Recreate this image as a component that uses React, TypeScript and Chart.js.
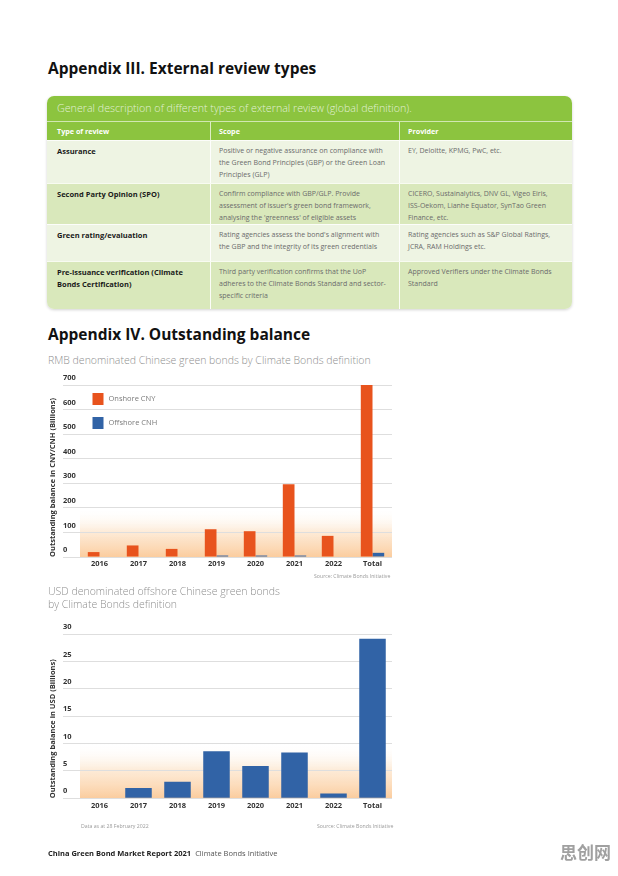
import React, { useEffect, useRef } from "react";
import { Chart, registerables } from "chart.js";

Chart.register(...registerables);

// ---------- data ----------
const categories = ["2016", "2017", "2018", "2019", "2020", "2021", "2022", "Total"];
const onshoreCNY = [20, 47, 33, 113, 105, 296, 86, 700];
const offshoreCNH = [0, 0, 0, 6, 6, 6, 0, 17];
const usdOffshore = [0, 1.9, 3.05, 8.6, 5.9, 8.4, 0.9, 29.2];
const rmbTicks = { min: 0, max: 700, step: 100 };
const usdTicks = { min: 0, max: 30, step: 5 };

const reviewTypes = [
  ["Assurance"],
  ["Second Party Opinion (SPO)"],
  ["Green rating/evaluation"],
  ["Pre-issuance verification (Climate", "Bonds Certification)"],
];
const reviewScopes = [
  ["Positive or negative assurance on compliance with", "the Green Bond Principles (GBP) or the Green Loan", "Principles (GLP)"],
  ["Confirm compliance with GBP/GLP. Provide", "assessment of issuer's green bond framework,", "analysing the 'greenness' of eligible assets"],
  ["Rating agencies assess the bond's alignment with", "the GBP and the integrity of its green credentials"],
  ["Third party verification confirms that the UoP", "adheres to the Climate Bonds Standard and sector-", "specific criteria"],
];
const reviewProviders = [
  ["EY, Deloitte, KPMG, PwC, etc."],
  ["CICERO, Sustainalytics, DNV GL, Vigeo Eiris,", "ISS-Oekom, Lianhe Equator, SynTao Green", "Finance, etc."],
  ["Rating agencies such as S&P Global Ratings,", "JCRA, RAM Holdings etc."],
  ["Approved Verifiers under the Climate Bonds", "Standard"],
];

const ORANGE = "#e8531d";
const BLUE = "#3163a6";
const FONT = "'Open Sans', 'Noto Sans', sans-serif";

const bandPlugin = {
  id: "band",
  beforeDraw(chart: any, _args: any, opts: any) {
    const { ctx, chartArea, scales } = chart;
    const yTop = scales.y.getPixelForValue(opts.top);
    const g = ctx.createLinearGradient(0, chartArea.bottom, 0, yTop);
    g.addColorStop(0, "rgba(250,192,134,0.8)");
    g.addColorStop(0.5, "rgba(252,220,186,0.6)");
    g.addColorStop(1, "rgba(255,255,255,0)");
    ctx.save();
    ctx.fillStyle = g;
    ctx.fillRect(chartArea.left, yTop, chartArea.right - chartArea.left, chartArea.bottom - yTop);
    ctx.restore();
  },
};

const boxLegendPlugin = {
  id: "boxLegend",
  afterDraw(chart: any, _args: any, opts: any) {
    if (!opts || !opts.show) return;
    const { ctx, chartArea } = chart;
    ctx.save();
    ctx.font = `7.5px ${FONT}`;
    ctx.textBaseline = "middle";
    chart.data.datasets.forEach((ds: any, i: number) => {
      const x = chartArea.left + 12.5;
      const y = chartArea.top + 8 + i * 24;
      ctx.fillStyle = ds.backgroundColor;
      ctx.fillRect(x, y, 11, 12);
      ctx.fillStyle = "#7a7a7a";
      ctx.fillText(ds.label, x + 16, y + 6);
    });
    ctx.restore();
  },
};

function makeOptions(cfg: any) {
  return {
    animation: false,
    responsive: false,
    devicePixelRatio: 1,
    layout: { padding: { top: cfg.padTop, left: 23, right: 8, bottom: 0 } },
    plugins: {
      legend: { display: false },
      tooltip: { enabled: false },
      band: { top: cfg.bandTop },
      boxLegend: { show: cfg.legend },
    },
    scales: {
      x: {
        grid: { display: false, drawTicks: false },
        border: { display: false },
        ticks: {
          padding: cfg.xPad,
          color: "#333",
          font: { family: FONT, size: 7.5, weight: "bold" },
          maxRotation: 0,
        },
        afterFit(scale: any) {
          scale.height = cfg.xHeight;
        },
      },
      y: {
        min: cfg.ticks.min,
        max: cfg.ticks.max,
        border: { display: false },
        grid: { color: "#dedede", lineWidth: 1, drawTicks: true, tickLength: 17, tickColor: "#dedede" },
        ticks: {
          stepSize: cfg.ticks.step,
          crossAlign: "far",
          labelOffset: -7,
          padding: 0,
          color: "#333",
          font: { family: FONT, size: 7.5, weight: "bold" },
        },
        title: {
          display: true,
          text: cfg.yTitle,
          align: "start",
          color: "#333",
          font: { family: FONT, size: 7.5, weight: "bold", lineHeight: 1.2 },
          padding: { top: -15, bottom: 0 },
        },
        afterFit(scale: any) {
          scale.width = 17;
        },
      },
    },
  };
}

function BarChart(props: { kind: "rmb" | "usd"; width: number; height: number }) {
  const ref = useRef<HTMLCanvasElement>(null);
  useEffect(() => {
    if (!ref.current) return;
    let chart: Chart;
    if (props.kind === "rmb") {
      chart = new Chart(ref.current, {
        type: "bar",
        data: {
          labels: categories,
          datasets: [
            { label: "Onshore CNY", data: onshoreCNY, backgroundColor: ORANGE, categoryPercentage: 0.6, barPercentage: 1 },
            { label: "Offshore CNH", data: offshoreCNH, backgroundColor: BLUE, categoryPercentage: 0.6, barPercentage: 1 },
          ],
        },
        options: makeOptions({
          padTop: 15,
          xHeight: 23,
          xPad: 2,
          ticks: rmbTicks,
          bandTop: 200,
          legend: true,
          yTitle: "Outstanding balance in CNY/CNH (Billions)",
        }) as any,
        plugins: [bandPlugin, boxLegendPlugin],
      });
    } else {
      chart = new Chart(ref.current, {
        type: "bar",
        data: {
          labels: categories,
          datasets: [
            { label: "USD", data: usdOffshore, backgroundColor: BLUE, categoryPercentage: 0.68, barPercentage: 1 },
          ],
        },
        options: makeOptions({
          padTop: 14.3,
          xHeight: 21.7,
          xPad: 3.5,
          ticks: usdTicks,
          bandTop: 10,
          legend: false,
          yTitle: "Outstanding balance in USD (Billions)",
        }) as any,
        plugins: [bandPlugin, boxLegendPlugin],
      });
    }
    return () => chart.destroy();
  }, [props.kind]);
  return <canvas ref={ref} width={props.width} height={props.height} style={{ width: props.width, height: props.height, display: "block" }} />;
}

const abs = (left: number, top: number, extra: React.CSSProperties = {}): React.CSSProperties => ({
  position: "absolute",
  left,
  top,
  whiteSpace: "nowrap",
  ...extra,
});

const rowHeights = [43, 41, 37, 48];
const rowColors = ["#eef4e3", "#d9e8bb", "#eef4e3", "#d9e8bb"];
const colWidths = [163, 189, 173];

export default function App() {
  const cellText: React.CSSProperties = { fontSize: 7, lineHeight: "12px", color: "#6b6b6b" };
  return (
    <div
      style={{
        position: "absolute",
        left: 0,
        top: 0,
        width: 618,
        height: 876,
        overflow: "hidden",
        background: "#fff",
        fontFamily: FONT,
      }}
    >
      <div style={abs(48, 57, { fontSize: 15.5, fontWeight: 700, lineHeight: "22px", color: "#111" })}>
        Appendix III. External review types
      </div>

      {/* table */}
      <div
        style={{
          position: "absolute",
          left: 47,
          top: 96,
          width: 525,
          borderRadius: 7,
          overflow: "hidden",
          boxShadow: "0 1px 3px rgba(0,0,0,0.18)",
        }}
      >
        <div style={{ height: 25, background: "#8cc43f", color: "rgba(255,255,255,0.78)", fontSize: 10.7, fontWeight: 300, lineHeight: "25px", paddingLeft: 10, whiteSpace: "nowrap" }}>
          General description of different types of external review (global definition).
        </div>
        <div style={{ display: "flex", height: 19, boxSizing: "border-box", background: "#8cc43f", borderTop: "1px solid rgba(255,255,255,0.6)" }}>
          {["Type of review", "Scope", "Provider"].map((h, i) => (
            <div
              key={h}
              style={{
                width: colWidths[i],
                boxSizing: "border-box",
                paddingLeft: i === 0 ? 10 : 8,
                borderLeft: i === 0 ? "none" : "1px solid rgba(255,255,255,0.7)",
                color: "#fff",
                fontWeight: 700,
                fontSize: 7.2,
                lineHeight: "18px",
                whiteSpace: "nowrap",
              }}
            >
              {h}
            </div>
          ))}
        </div>
        {reviewTypes.map((t, r) => (
          <div key={r} style={{ display: "flex", height: rowHeights[r], boxSizing: "border-box", background: rowColors[r], borderTop: "1px solid rgba(255,255,255,0.8)" }}>
            {[t, reviewScopes[r], reviewProviders[r]].map((lines, i) => (
              <div
                key={i}
                style={{
                  width: colWidths[i],
                  boxSizing: "border-box",
                  paddingLeft: i === 0 ? 10 : 8,
                  paddingTop: 4,
                  borderLeft: i === 0 ? "none" : "1px solid rgba(255,255,255,0.9)",
                  whiteSpace: "nowrap",
                  ...cellText,
                  ...(i === 0 ? { fontWeight: 700, color: "#1a1a1a", fontSize: 7.5 } : {}),
                }}
              >
                {lines.map((l, k) => (
                  <div key={k}>{l}</div>
                ))}
              </div>
            ))}
          </div>
        ))}
      </div>

      <div style={abs(48, 323, { fontSize: 15.5, fontWeight: 700, lineHeight: "22px", color: "#111" })}>
        Appendix IV. Outstanding balance
      </div>
      <div style={abs(48, 352, { fontSize: 10.5, fontWeight: 300, lineHeight: "16px", color: "#8f8f8f" })}>
        RMB denominated Chinese green bonds by Climate Bonds definition
      </div>

      <div style={abs(40, 370)}>
        <BarChart kind="rmb" width={360} height={210} />
      </div>
      <div style={abs(314, 573, { fontSize: 5.2, lineHeight: "7px", color: "#9a9a9a" })}>Source: Climate Bonds Initiative</div>

      <div style={abs(48, 585, { fontSize: 10.5, fontWeight: 300, lineHeight: "13px", color: "#8f8f8f" })}>
        USD denominated offshore Chinese green bonds
        <br />
        by Climate Bonds definition
      </div>

      <div style={abs(40, 620)}>
        <BarChart kind="usd" width={360} height={200} />
      </div>
      <div style={abs(81, 823, { fontSize: 5.2, lineHeight: "7px", color: "#9a9a9a" })}>Data as at 28 February 2022</div>
      <div style={abs(317, 823, { fontSize: 5.2, lineHeight: "7px", color: "#9a9a9a" })}>Source: Climate Bonds Initiative</div>

      <div style={abs(48, 847, { fontSize: 7.5, lineHeight: "12px", color: "#222" })}>
        <span style={{ fontWeight: 700 }}>China Green Bond Market Report 2021</span>
        <span style={{ color: "#555", marginLeft: 4 }}>Climate Bonds Initiative</span>
      </div>
      <div style={abs(560, 840, { fontSize: 17, fontWeight: 700, lineHeight: "24px", color: "#a0a0a0", fontFamily: "'Noto Sans CJK SC', sans-serif" })}>
        思创网
      </div>
    </div>
  );
}
